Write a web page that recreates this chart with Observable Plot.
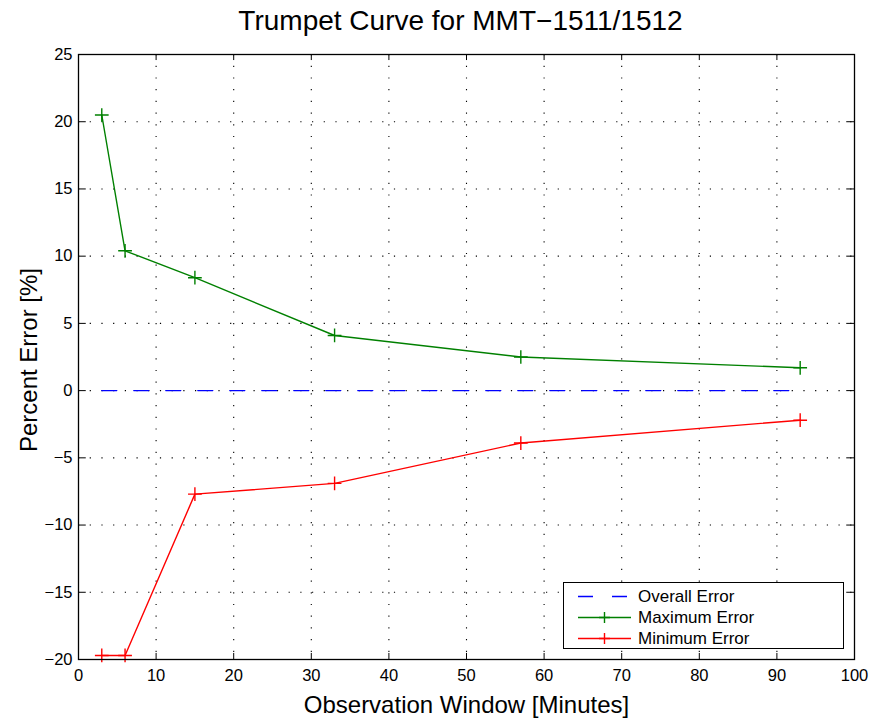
<!DOCTYPE html>
<html>
<head>
<meta charset="utf-8">
<script src="https://cdn.jsdelivr.net/npm/d3@7"></script>
<script src="https://cdn.jsdelivr.net/npm/@observablehq/plot@0.6"></script>
<style>
  html, body { margin: 0; padding: 0; background: #fff; }
  #wrap { position: relative; width: 874px; height: 721px; font-family: "Liberation Sans", Arial, sans-serif; }
  #legend { position: absolute; left: 563px; top: 582px; width: 281px; height: 67px; border: 1.2px solid #000; background: #fff; box-sizing: border-box; }
  .row { position: absolute; left: 0; height: 21px; display: flex; align-items: center; }
  .row span { font-size: 17px; color: #000; margin-left: 6px; }
</style>
</head>
<body>
<div id="wrap"></div>
<script>
const title = "Trumpet Curve for MMT\u22121511/1512";
const xLabel = "Observation Window [Minutes]";
const yLabel = "Percent Error [%]";
const minutes = [3, 6, 15, 33, 57, 93];
const overallError = [0, 0, 0, 0, 0, 0];
const maxError = [20.5, 10.4, 8.4, 4.1, 2.5, 1.7];
const minError = [-19.7, -19.7, -7.7, -6.9, -3.9, -2.2];
const xTicks = [0, 10, 20, 30, 40, 50, 60, 70, 80, 90, 100];
const yTicks = [-20, -15, -10, -5, 0, 5, 10, 15, 20, 25];
const seriesNames = ["Overall Error", "Maximum Error", "Minimum Error"];
const seriesColors = ["#0000ff", "#008000", "#ff0000"];

const xDom = [xTicks[0], xTicks[xTicks.length - 1]];
const yDom = [yTicks[0], yTicks[yTicks.length - 1]];
const rows = (vals) => minutes.map((m, i) => ({x: m, y: vals[i]}));
const overall = rows(overallError), maxR = rows(maxError), minR = rows(minError);
const innerX = xTicks.filter(t => t !== xDom[0] && t !== xDom[1]);
const innerY = yTicks.filter(t => t !== yDom[0] && t !== yDom[1]);
const font = "'Liberation Sans', Arial, sans-serif";

const chart = Plot.plot({
  width: 874, height: 721,
  marginLeft: 78, marginRight: 20, marginTop: 54, marginBottom: 62,
  style: {fontFamily: font, background: "#fff", color: "#000"},
  x: {domain: xDom, ticks: xTicks},
  y: {domain: yDom, ticks: yTicks},
  marks: [
    Plot.ruleX(innerX, {x: d => d, stroke: "#000", strokeWidth: 1.1, strokeDasharray: "1.2,10.5"}),
    Plot.ruleY(innerY, {y: d => d, stroke: "#000", strokeWidth: 1.1, strokeDasharray: "1.2,10.5"}),
    Plot.ruleY(yTicks, {y: d => d, x1: xDom[0], x2: xDom[0] + 1, stroke: "#000", strokeWidth: 1}),
    Plot.ruleY(yTicks, {y: d => d, x1: xDom[1] - 1, x2: xDom[1], stroke: "#000", strokeWidth: 1}),
    Plot.ruleX(xTicks, {x: d => d, y1: yDom[0], y2: yDom[0] + 0.45, stroke: "#000", strokeWidth: 1}),
    Plot.ruleX(xTicks, {x: d => d, y1: yDom[1] - 0.45, y2: yDom[1], stroke: "#000", strokeWidth: 1}),
    Plot.line(overall, {x: "x", y: "y", stroke: seriesColors[0], strokeWidth: 1.4, strokeDasharray: "15,17"}),
    Plot.line(maxR, {x: "x", y: "y", stroke: seriesColors[1], strokeWidth: 1.4}),
    Plot.dot(maxR, {x: "x", y: "y", symbol: "plus", r: 4.5, stroke: seriesColors[1], strokeWidth: 1.4}),
    Plot.line(minR, {x: "x", y: "y", stroke: seriesColors[2], strokeWidth: 1.4}),
    Plot.dot(minR, {x: "x", y: "y", symbol: "plus", r: 4.5, stroke: seriesColors[2], strokeWidth: 1.4}),
    Plot.frame({stroke: "#000", strokeWidth: 1.3}),
    Plot.axisX({ticks: xTicks, tickSize: 0, tickPadding: 10, fontSize: 16.5, label: null, tickFormat: d => String(d).replace("-", "\u2212")}),
    Plot.axisY({ticks: yTicks, tickSize: 0, tickPadding: 6, fontSize: 16.5, label: null, tickFormat: d => String(d).replace("-", "\u2212")}),
    Plot.text([title], {text: d => d, frameAnchor: "top", dx: -6, dy: -44, fontSize: 28, fill: "#000"}),
    Plot.text([xLabel], {text: d => d, frameAnchor: "bottom", dy: 53, fontSize: 24, fill: "#000"}),
    Plot.text([yLabel], {text: d => d, frameAnchor: "left", textAnchor: "middle", dx: -49, dy: 3, rotate: -90, fontSize: 24, fill: "#000"})
  ]
});
const wrap = document.getElementById("wrap");
wrap.appendChild(chart);

// legend
const legend = document.createElement("div");
legend.id = "legend";
seriesNames.forEach((name, i) => {
  const row = document.createElement("div");
  row.className = "row";
  row.style.top = (3 + i * 21) + "px";
  const svg = d3.create("svg").attr("width", 68).attr("height", 21);
  const line = svg.append("line").attr("x1", 14).attr("x2", 67).attr("y1", 10.5).attr("y2", 10.5)
    .attr("stroke", seriesColors[i]).attr("stroke-width", 1.4);
  if (i === 0) line.attr("stroke-dasharray", "15,19");
  else svg.append("path").attr("d", "M40.5,5V16M35,10.5H46").attr("stroke", seriesColors[i]).attr("stroke-width", 1.4);
  row.appendChild(svg.node());
  const span = document.createElement("span");
  span.textContent = name;
  row.appendChild(span);
  legend.appendChild(row);
});
wrap.appendChild(legend);
</script>
</body>
</html>
